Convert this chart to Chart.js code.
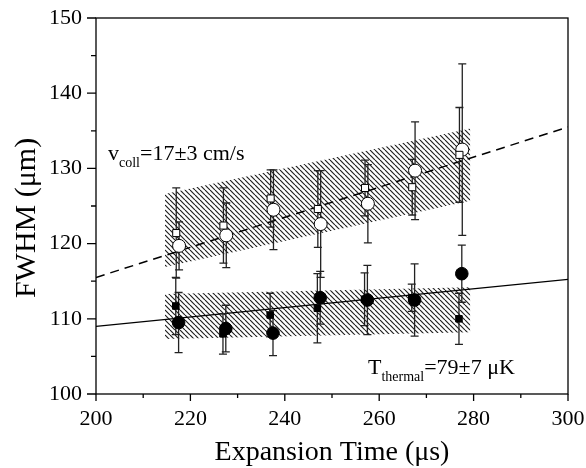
<!DOCTYPE html>
<html>
<head>
<meta charset="utf-8">
<script src="https://cdn.jsdelivr.net/npm/chart.js@4.4.0/dist/chart.umd.min.js"></script>
<style>
  html, body { margin: 0; padding: 0; background: #fff; }
  #wrap { width: 586px; height: 468px; position: relative; }
</style>
</head>
<body>
<div id="wrap"><canvas id="c" width="586" height="468"></canvas></div>
<script>
// ---- data ----
const openCircleX   = [217.6, 227.6, 237.6, 247.6, 257.6, 267.6, 277.6];
const openCircleY   = [119.7, 121.1, 124.5, 122.6, 125.3, 129.7, 132.5];
const openCircleErr = [3.2, 4.3, 5.3, 7.1, 5.2, 6.5, 11.4];

const openSquareX   = [217.0, 227.0, 237.0, 247.0, 257.0, 267.0, 277.0];
const openSquareY   = [121.4, 122.4, 126.0, 124.6, 127.4, 127.5, 131.8];
const openSquareErr = [6.0, 5.0, 3.8, 5.1, 3.7, 3.7, 6.3];

const filledCircleX   = [217.5, 227.5, 237.5, 247.5, 257.5, 267.5, 277.5];
const filledCircleY   = [109.5, 108.7, 108.1, 112.8, 112.5, 112.5, 116.0];
const filledCircleErr = [4.0, 3.1, 3.0, 3.5, 4.6, 4.8, 3.8];

const filledSquareX   = [216.9, 226.9, 236.9, 246.9, 256.9, 266.9, 276.9];
const filledSquareY   = [111.7, 108.0, 110.5, 111.4, 112.6, 112.8, 110.0];
const filledSquareErr = [3.8, 2.7, 2.9, 4.6, 3.5, 1.8, 3.4];

const fitX          = [200, 300];
const fitUpperY     = [115.5, 135.5];
const fitLowerY     = [109.0, 115.25];

const bandX          = [214.6, 279.3];
const upperBandTop   = [126.6, 135.3];
const upperBandBot   = [116.9, 125.7];
const lowerBandTop   = [113.3, 114.2];
const lowerBandBot   = [107.3, 108.2];

const xTicks = [200, 220, 240, 260, 280, 300];
const yTicks = [100, 110, 120, 130, 140, 150];

const SERIF = '"Liberation Serif", "Times New Roman", serif';

function pts(xs, ys) { return xs.map((x, i) => ({ x: x, y: ys[i] })); }

function hatch() {
  const s = 5;
  const c = document.createElement('canvas');
  c.width = s; c.height = s;
  const g = c.getContext('2d');
  g.strokeStyle = '#222';
  g.lineWidth = 1.2;
  for (const o of [-s, 0, s]) {
    g.beginPath(); g.moveTo(o, 0); g.lineTo(o + s, s); g.stroke();
  }
  return document.getElementById('c').getContext('2d').createPattern(c, 'repeat');
}
const pat = hatch();

const errorSeries = [
  { x: openSquareX, y: openSquareY, e: openSquareErr },
  { x: openCircleX, y: openCircleY, e: openCircleErr },
  { x: filledSquareX, y: filledSquareY, e: filledSquareErr },
  { x: filledCircleX, y: filledCircleY, e: filledCircleErr }
];

function drawErrorBars(chart) {
  const ctx = chart.ctx, xs = chart.scales.x, ys = chart.scales.y;
  ctx.save();
  ctx.strokeStyle = '#222';
  ctx.lineWidth = 1.3;
  for (const s of errorSeries) {
    s.x.forEach((xv, i) => {
      const px = xs.getPixelForValue(xv);
      const t = ys.getPixelForValue(s.y[i] + s.e[i]);
      const b = ys.getPixelForValue(s.y[i] - s.e[i]);
      ctx.beginPath();
      ctx.moveTo(px, t); ctx.lineTo(px, b);
      ctx.moveTo(px - 4, t); ctx.lineTo(px + 4, t);
      ctx.moveTo(px - 4, b); ctx.lineTo(px + 4, b);
      ctx.stroke();
    });
  }
  ctx.restore();
}

function subText(ctx, x, y, main1, sub, main2, size, subSize) {
  ctx.font = size + 'px ' + SERIF;
  ctx.fillText(main1, x, y);
  let w = ctx.measureText(main1).width;
  ctx.font = subSize + 'px ' + SERIF;
  ctx.fillText(sub, x + w, y + 7);
  w += ctx.measureText(sub).width;
  ctx.font = size + 'px ' + SERIF;
  ctx.fillText(main2, x + w, y);
}

const custom = {
  id: 'custom',
  beforeDatasetsDraw(chart) { chart.$eb = false; },
  beforeDatasetDraw(chart, args) {
    if (!chart.$eb && chart.data.datasets[args.index].order === 1) {
      drawErrorBars(chart);
      chart.$eb = true;
    }
  },
  afterDraw(chart) {
    const ctx = chart.ctx, a = chart.chartArea, xs = chart.scales.x, ys = chart.scales.y;
    ctx.save();
    ctx.strokeStyle = '#000';
    ctx.lineWidth = 1.3;
    ctx.strokeRect(a.left, a.top, a.right - a.left, a.bottom - a.top);
    ctx.beginPath();
    for (let v = 100; v <= 150; v += 5) {
      const p = ys.getPixelForValue(v);
      const len = (v % 10 === 0) ? 9 : 5;
      ctx.moveTo(a.left - len, p); ctx.lineTo(a.left, p);
    }
    for (let v = 200; v <= 300; v += 10) {
      const p = xs.getPixelForValue(v);
      const len = (v % 20 === 0) ? 7 : 4;
      ctx.moveTo(p, a.bottom); ctx.lineTo(p, a.bottom + len);
    }
    ctx.stroke();

    ctx.fillStyle = '#000';
    ctx.textBaseline = 'alphabetic';
    // axis titles
    ctx.font = '28px ' + SERIF;
    ctx.textAlign = 'center';
    ctx.fillText('Expansion Time (\u03bcs)', (a.left + a.right) / 2, 460);
    ctx.save();
    ctx.font = '30px ' + SERIF;
    ctx.translate(35, 218);
    ctx.rotate(-Math.PI / 2);
    ctx.fillText('FWHM (\u03bcm)', 0, 0);
    ctx.restore();

    // annotations
    ctx.textAlign = 'left';
    subText(ctx, 108, 160, 'v', 'coll', '=17\u00b13 cm/s', 22, 14);
    subText(ctx, 368, 374, 'T', 'thermal', '=79\u00b17 \u03bcK', 22, 14);
    ctx.restore();
  }
};

new Chart(document.getElementById('c'), {
  type: 'scatter',
  data: {
    datasets: [
      { type: 'line', data: pts(bandX, upperBandBot), borderWidth: 0, pointRadius: 0, fill: false, order: 10 },
      { type: 'line', data: pts(bandX, upperBandTop), borderWidth: 0, pointRadius: 0, fill: '-1', backgroundColor: pat, order: 10 },
      { type: 'line', data: pts(bandX, lowerBandBot), borderWidth: 0, pointRadius: 0, fill: false, order: 10 },
      { type: 'line', data: pts(bandX, lowerBandTop), borderWidth: 0, pointRadius: 0, fill: '-1', backgroundColor: pat, order: 10 },
      { type: 'line', data: pts(fitX, fitUpperY), borderColor: '#000', borderWidth: 1.5, borderDash: [9, 6], pointRadius: 0, fill: false, order: 5 },
      { type: 'line', data: pts(fitX, fitLowerY), borderColor: '#000', borderWidth: 1.3, pointRadius: 0, fill: false, order: 5 },
      { data: pts(openSquareX, openSquareY), pointStyle: 'rect', pointRadius: 5, backgroundColor: '#fff', borderColor: '#000', borderWidth: 1, order: 1 },
      { data: pts(openCircleX, openCircleY), pointStyle: 'circle', pointRadius: 6.5, backgroundColor: '#fff', borderColor: '#000', borderWidth: 1, order: 1 },
      { data: pts(filledSquareX, filledSquareY), pointStyle: 'rect', pointRadius: 4.6, backgroundColor: '#000', borderColor: '#000', borderWidth: 1, order: 1 },
      { data: pts(filledCircleX, filledCircleY), pointStyle: 'circle', pointRadius: 6.3, backgroundColor: '#000', borderColor: '#000', borderWidth: 1, order: 1 }
    ]
  },
  options: {
    responsive: false,
    animation: false,
    events: [],
    layout: { padding: { top: 18, right: 18, left: 0, bottom: 0 } },
    plugins: { legend: { display: false }, tooltip: { enabled: false } },
    scales: {
      x: {
        type: 'linear', min: 200, max: 300,
        grid: { display: false }, border: { display: false },
        afterFit: s => { s.height = 74; s.paddingLeft = 0; s.paddingRight = 0; },
        afterBuildTicks: s => { s.ticks = xTicks.map(v => ({ value: v })); },
        ticks: { font: { family: SERIF, size: 22 }, color: '#000', padding: 4, maxRotation: 0, autoSkip: false }
      },
      y: {
        type: 'linear', min: 100, max: 150,
        grid: { display: false }, border: { display: false },
        afterFit: s => { s.width = 96; s.paddingTop = 0; s.paddingBottom = 0; },
        afterBuildTicks: s => { s.ticks = yTicks.map(v => ({ value: v })); },
        ticks: { font: { family: SERIF, size: 22 }, color: '#000', padding: 6 }
      }
    }
  },
  plugins: [custom]
});
</script>
</body>
</html>
